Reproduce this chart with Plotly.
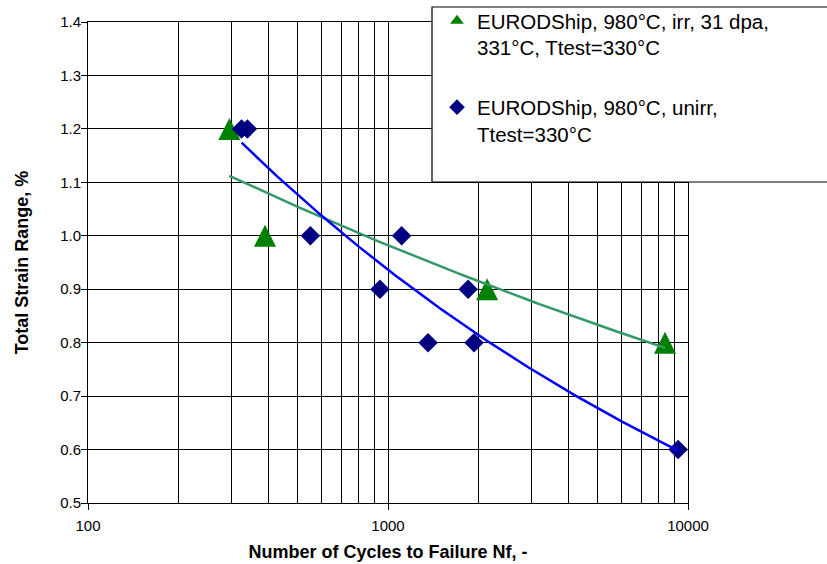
import numpy as np
import plotly.graph_objects as go

# ---- data ----
irr_cycles = [296, 389, 2140, 8380]
irr_strain = [1.2, 1.0, 0.9, 0.8]
unirr_cycles = [325, 340, 551, 1110, 940, 1850, 1360, 1935, 9270]
unirr_strain = [1.2, 1.2, 1.0, 1.0, 0.9, 0.9, 0.8, 0.8, 0.6]
irr_label = "EURODShip, 980°C, irr, 31 dpa,<br>331°C, Ttest=330°C"
unirr_label = "EURODShip, 980°C, unirr,<br>Ttest=330°C"
x_tick_vals = [100, 1000, 10000]
x_tick_text = ["100", "1000", "10000"]
x_minor_vals = [200, 300, 400, 500, 600, 700, 800, 900,
                2000, 3000, 4000, 5000, 6000, 7000, 8000, 9000]
y_tick_vals = [0.5, 0.6, 0.7, 0.8, 0.9, 1.0, 1.1, 1.2, 1.3, 1.4]
x_title = "Number of Cycles to Failure Nf, -"
y_title = "Total Strain Range, %"

# ---- style / layout geometry (pixels) ----
W, H = 827, 564
ML, MR, MT, MB = 88, 4, 0, 61
PLOT_L, PLOT_R, PLOT_T, PLOT_B = 88, 688, 22, 503
paper_w = W - ML - MR
paper_h = H - MT - MB
FONT = "Liberation Sans, Arial, sans-serif"
TRI_SIZE = 22
Y_RANGE = [0.5, 1.4]
plot_h = PLOT_B - PLOT_T
shift = (TRI_SIZE / 2) / plot_h * (Y_RANGE[1] - Y_RANGE[0])


def px(x):
    return (x - ML) / paper_w


def py(y):
    return (H - MB - y) / paper_h


def power_fit(x, y):
    lx, ly = np.log10(x), np.log10(y)
    b, a = np.polyfit(lx, ly, 1)
    xs = np.logspace(lx.min(), lx.max(), 200)
    return xs, 10 ** a * xs ** b


gx, gy = power_fit(np.array(irr_cycles, float), np.array(irr_strain, float))
bx, by = power_fit(np.array(unirr_cycles, float), np.array(unirr_strain, float))

fig = go.Figure()
# legend-only entry for triangles
fig.add_trace(go.Scatter(x=[None], y=[None], mode="markers", name=irr_label,
                         legendgroup="a",
                         marker=dict(symbol="triangle-up", color="#008000", size=14)))
# triangle data (arrow-up symbol: equal width/height, centred by axis shift)
fig.add_trace(go.Scatter(x=irr_cycles, y=irr_strain, mode="markers", showlegend=False,
                         yaxis="y2",
                         marker=dict(symbol="arrow-up", color="#008000", size=TRI_SIZE,
                                     line=dict(width=0))))
fig.add_trace(go.Scatter(x=unirr_cycles, y=unirr_strain, mode="markers", name=unirr_label,
                         legendgroup="b", yaxis="y3",
                         marker=dict(symbol="diamond", color="#000080", size=15,
                                     line=dict(width=0))))
fig.add_trace(go.Scatter(x=gx, y=gy, mode="lines", showlegend=False, yaxis="y3",
                         line=dict(color="#339966", width=2.5)))
fig.add_trace(go.Scatter(x=bx, y=by, mode="lines", showlegend=False, yaxis="y3",
                         line=dict(color="#0000FF", width=2.5)))

ydom = [py(PLOT_B), py(PLOT_T)]
fig.update_layout(
    width=W, height=H,
    margin=dict(l=ML, r=MR, t=MT, b=MB, autoexpand=False),
    paper_bgcolor="white", plot_bgcolor="white",
    font=dict(family=FONT, color="black", size=15),
    xaxis=dict(type="log", range=[2, 4], domain=[px(PLOT_L), px(PLOT_R)],
               tickvals=x_tick_vals, ticktext=x_tick_text,
               ticks="outside", ticklen=6, tickcolor="black",
               showgrid=True, gridcolor="black", gridwidth=1,
               showline=True, linecolor="black", linewidth=1, mirror=True,
               minor=dict(tickvals=x_minor_vals, showgrid=True, gridcolor="black",
                          gridwidth=1, ticks=""),
               tickfont=dict(size=15), automargin=False, ticklabelstandoff=3,
               title=dict(text="<b>" + x_title + "</b>", font=dict(size=18), standoff=12),
               zeroline=False),
    yaxis=dict(range=Y_RANGE, domain=ydom, tickvals=y_tick_vals, tickformat=".1f",
               ticks="outside", ticklen=6, tickcolor="black",
               showgrid=True, gridcolor="black", gridwidth=1,
               showline=True, linecolor="black", linewidth=1, mirror=True,
               tickfont=dict(size=15), automargin=False, ticklabelstandoff=-3,
               title=dict(text="<b>" + y_title + "</b>", font=dict(size=18), standoff=26),
               zeroline=False),
    yaxis2=dict(range=[Y_RANGE[0] - shift, Y_RANGE[1] - shift], overlaying="y",
                domain=ydom, visible=False, showgrid=False),
    yaxis3=dict(range=Y_RANGE, overlaying="y", domain=ydom, visible=False, showgrid=False),
    showlegend=True,
    legend=dict(x=px(437), xanchor="left", y=py(1), yanchor="top",
                bgcolor="rgba(0,0,0,0)", borderwidth=0,
                font=dict(size=20.5, family=FONT), valign="top",
                itemsizing="constant", tracegroupgap=30),
    shapes=[dict(type="rect", xref="paper", yref="paper", layer="above",
                 x0=px(432), x1=px(845), y0=py(182), y1=py(7),
                 fillcolor="white", line=dict(color="black", width=1.2))],
)

fig.write_html("out.html",
               config={"displayModeBar": False},
               post_script="document.body.style.margin='0';document.body.style.overflow='hidden';")
